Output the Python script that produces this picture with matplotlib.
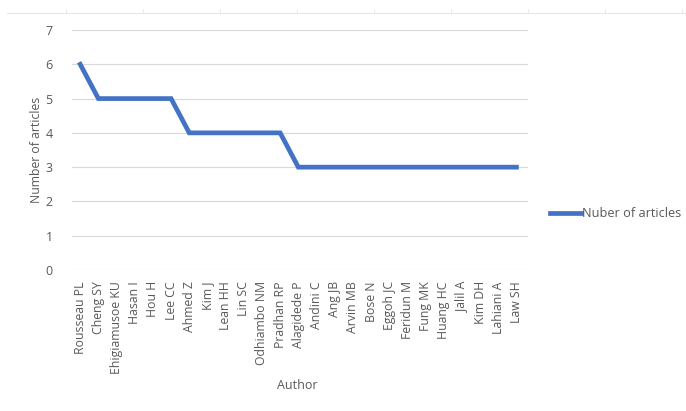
import matplotlib.pyplot as plt
from matplotlib.lines import Line2D

authors = ['Rousseau PL', 'Cheng SY', 'Ehigiamusoe KU', 'Hasan I', 'Hou H', 'Lee CC',
           'Ahmed Z', 'Kim J', 'Lean HH', 'Lin SC', 'Odhiambo NM', 'Pradhan RP',
           'Alagidede P', 'Andini C', 'Ang JB', 'Arvin MB', 'Bose N', 'Eggoh JC',
           'Feridun M', 'Fung MK', 'Huang HC', 'Jalil A', 'Kim DH', 'Lahiani A', 'Law SH']
articles = [6, 5, 5, 5, 5, 5, 4, 4, 4, 4, 4, 4, 3, 3, 3, 3, 3, 3, 3, 3, 3, 3, 3, 3, 3]

plt.rcParams['font.family'] = ['Open Sans', 'DejaVu Sans']
grey = '#595959'

fig = plt.figure(figsize=(6.86, 4.11), dpi=100)
ax = fig.add_axes([0.105, 0.343, 0.665, 0.584])

x = list(range(len(authors)))
ax.plot(x, articles, color='#4472C4', lw=3.4, solid_joinstyle='miter', label='Nuber of articles')

ax.set_xlim(-0.45, len(authors) - 0.35)
ax.set_ylim(0, 7)
ax.set_yticks(range(8))
ax.set_xticks(x)
ax.set_xticklabels(authors, rotation=90, fontsize=8.8, color=grey)
ax.tick_params(axis='y', labelsize=9, colors=grey, length=0, pad=14)
ax.tick_params(axis='x', length=0, pad=8)
ax.grid(axis='y', color='#d9d9d9', lw=0.8)
ax.set_axisbelow(True)
for s in ax.spines.values():
    s.set_visible(False)

ax.set_ylabel('Number of articles', fontsize=8.8, color=grey, labelpad=2)
fig.text(0.434, 0.063, 'Author', fontsize=9, color=grey, ha='center', va='center')

# legend on the right
fig.legend(handles=[Line2D([], [], color='#4472C4', lw=3.4)], labels=['Nuber of articles'],
           loc='center left', bbox_to_anchor=(0.785, 0.48), frameon=False,
           fontsize=9.2, labelcolor=grey, handlelength=2.4, handletextpad=0.1)

# faint ruler line across the top
fig.add_artist(Line2D([0.01, 1.0], [0.968, 0.968], color='#e6e6e6', lw=0.8))
for tx in [66, 143, 220, 297, 374, 451, 528, 605, 682]:
    fig.add_artist(Line2D([tx / 686, tx / 686], [0.968, 0.978], color='#e6e6e6', lw=0.6))

fig.savefig('out.png', dpi=100)
